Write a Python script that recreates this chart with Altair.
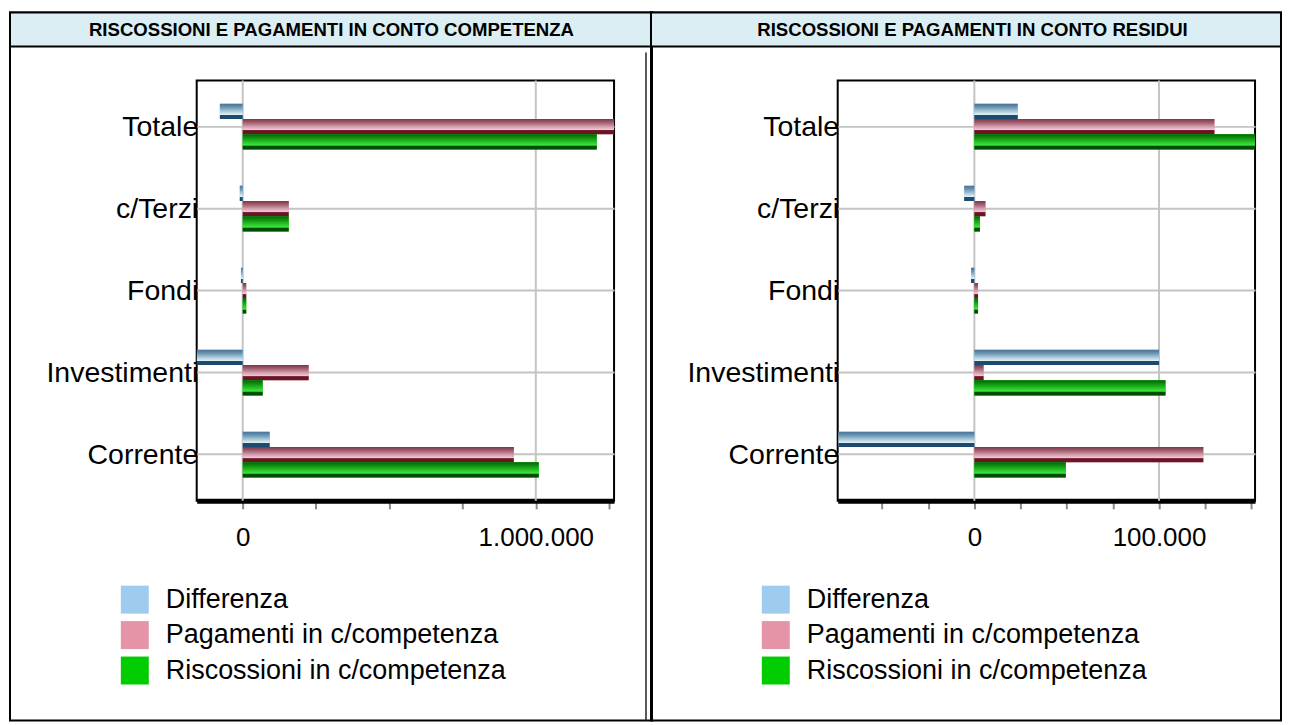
import altair as alt
import pandas as pd

FONT = "Liberation Sans"

# ---- data ----
categorie = ["Totale", "c/Terzi", "Fondi", "Investimenti", "Corrente"]
serie = ["Differenza", "Pagamenti in c/competenza", "Riscossioni in c/competenza"]
colori_legenda = ["#9fcbee", "#e494a6", "#00cc00"]

titolo_sx = "RISCOSSIONI E PAGAMENTI IN CONTO COMPETENZA"
titolo_dx = "RISCOSSIONI E PAGAMENTI IN CONTO RESIDUI"

# conto competenza (left)
comp_differenza = [-78000, -10000, -6000, -157000, 92000]
comp_pagamenti = [1290000, 157000, 12000, 225000, 925000]
comp_riscossioni = [1208000, 157000, 12000, 68000, 1010000]
comp_dominio = [-157000, 1267000]
comp_tick = [0, 250000, 500000, 750000, 1000000, 1250000]
comp_etichette_val = [0, 1000000]
comp_etichette_txt = ["0", "1.000.000"]

# conto residui (right)
res_differenza = [23500, -5500, -1800, 100000, -73500]
res_pagamenti = [130000, 6000, 2000, 5000, 124000]
res_riscossioni = [153500, 3000, 2000, 103500, 49500]
res_dominio = [-74000, 152000]
res_tick = [-50000, -25000, 0, 25000, 50000, 75000, 100000, 125000, 150000]
res_etichette_val = [0, 100000]
res_etichette_txt = ["0", "100.000"]

# striped gradient look of the bars
stops_diff = [("#45709a", 0), ("#6f98b3", 0.25), ("#a9c9da", 0.5), ("#e2f0f5", 0.72), ("#1d4a6e", 0.76), ("#1d4a6e", 1)]
stops_pag = [("#7a3446", 0), ("#a46272", 0.25), ("#d39cac", 0.5), ("#f2ccd6", 0.72), ("#6a1426", 0.76), ("#6a1426", 1)]
stops_risc = [("#006400", 0), ("#129212", 0.25), ("#27c027", 0.5), ("#3de83d", 0.72), ("#004c00", 0.78), ("#004c00", 1)]
gradienti = [stops_diff, stops_pag, stops_risc]

W, H = 418, 421


def gradient(stops):
    return alt.Gradient(
        gradient="linear", x1=0, x2=0, y1=0, y2=1,
        stops=[alt.GradientStop(color=c, offset=o) for c, o in stops],
    )


def pannello(titolo, diff, pag, risc, dominio, ticks, et_val, et_txt, cell_right):
    df = pd.DataFrame({
        "categoria": categorie * 3,
        "serie": [s for s in serie for _ in categorie],
        "valore": diff + pag + risc,
    })
    expr = "''"
    for v, t in zip(reversed(et_val), reversed(et_txt)):
        expr = f"datum.value == {v} ? '{t}' : {expr}"

    xs = alt.Scale(domain=dominio, nice=False, zero=False)
    ys = alt.Scale(domain=categorie, paddingInner=0, paddingOuter=0.0625)
    yo = alt.Scale(domain=serie, paddingInner=0, paddingOuter=0, range=[18.1, 64.0])
    xaxis = alt.Axis(
        values=ticks, labelExpr=expr, grid=False, title=None,
        domainColor="black", domainWidth=5, tickColor="#8a8a8a", tickWidth=2,
        tickSize=8, labelFontSize=26, labelFont=FONT, labelColor="black",
        labelPadding=16, labelOverlap=False, labelFlush=False,
    )
    yaxis = alt.Axis(
        title=None, ticks=False, domain=False, grid=True, gridColor="#c4c4c4",
        gridWidth=2, bandPosition=0.5, labelFontSize=28.5, labelFont=FONT,
        labelColor="black", labelPadding=-1, labelOverlap=False, labelLimit=0,
    )
    x = alt.X("valore:Q", scale=xs, axis=xaxis, stack=None)
    y = alt.Y("categoria:N", scale=ys, axis=yaxis, sort=categorie)
    yoff = alt.YOffset("serie:N", scale=yo, sort=serie)

    base = alt.Chart(df)
    griglia = alt.Chart(pd.DataFrame({"valore": et_val})).mark_rule(
        color="#c4c4c4", strokeWidth=2
    ).encode(x=alt.X("valore:Q", scale=xs, axis=xaxis))

    legenda = base.mark_bar(clip=True).encode(
        x=x, y=y, yOffset=yoff,
        color=alt.Color(
            "serie:N",
            scale=alt.Scale(domain=serie, range=colori_legenda),
            legend=alt.Legend(
                orient="none", legendX=-76, legendY=506, title=None,
                symbolType="square", symbolSize=784, symbolStrokeWidth=0,
                labelFontSize=27, labelFont=FONT, labelColor="black",
                labelOffset=17, rowPadding=7.5, padding=0, labelLimit=0,
            ),
        ),
    )
    barre = [
        base.transform_filter(alt.datum.serie == s)
        .mark_bar(clip=True, color=gradient(g))
        .encode(x=x, y=y, yOffset=yoff)
        for s, g in zip(serie, gradienti)
    ]

    one = pd.DataFrame({"t": [titolo]})
    cella = alt.Chart(one).mark_rect(
        fill="transparent", stroke="black", strokeWidth=2
    ).encode(x=alt.value(-187), x2=alt.value(cell_right), y=alt.value(-68), y2=alt.value(641))
    testata = alt.Chart(one).mark_rect(
        fill="#daeef3", stroke="black", strokeWidth=2
    ).encode(x=alt.value(-187), x2=alt.value(cell_right), y=alt.value(-68), y2=alt.value(-34))
    testo = alt.Chart(one).mark_text(
        font=FONT, fontSize=18.6, fontWeight="bold", color="black",
        align="center", baseline="middle",
    ).encode(text="t:N", x=alt.value(135), y=alt.value(-51))

    layers = [griglia, legenda] + barre + [cella, testata, testo]
    if cell_right > 450:
        linea = alt.Chart(one).mark_rule(color="#222222", strokeWidth=1.5).encode(
            x=alt.value(450), y=alt.value(-28), y2=alt.value(641)
        )
        layers.append(linea)
    return alt.layer(*layers).properties(width=W, height=H)


p1 = pannello(titolo_sx, comp_differenza, comp_pagamenti, comp_riscossioni,
              comp_dominio, comp_tick, comp_etichette_val, comp_etichette_txt, 456)
p2 = pannello(titolo_dx, res_differenza, res_pagamenti, res_riscossioni,
              res_dominio, res_tick, res_etichette_val, res_etichette_txt, 444)

chart = (
    alt.hconcat(p1, p2, spacing=224, bounds="flush")
    .resolve_scale(color="independent", x="independent", y="independent")
    .resolve_legend(color="independent")
    .properties(padding={"left": 0, "top": 2, "right": 0, "bottom": 0})
    .configure_view(stroke="black", strokeWidth=2)
)

chart.save("out.html", embed_options={"renderer": "svg", "actions": False})
